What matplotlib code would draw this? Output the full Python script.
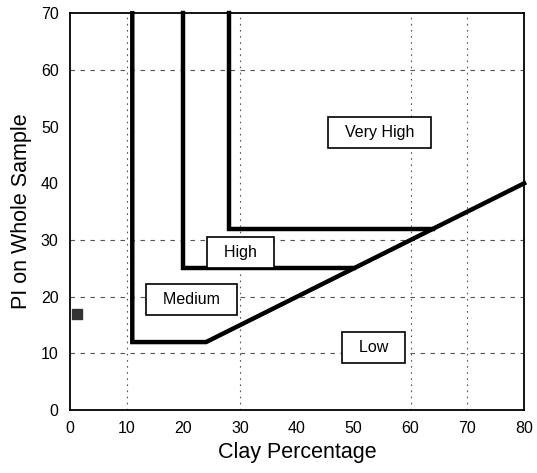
import matplotlib
matplotlib.use("Agg")
import matplotlib.pyplot as plt

plt.rcParams['font.family'] = ['Liberation Sans', 'DejaVu Sans']

# class boundaries (clay %, PI)
medium_x = [11, 11, 24, 80]
medium_y = [70, 12, 12, 40]
high_x = [20, 20, 50]
high_y = [70, 25, 25]
vhigh_x = [28, 28, 64]
vhigh_y = [70, 32, 32]

labels = ['Very High', 'High', 'Medium', 'Low']
label_x = [54.5, 30, 21.5, 53.5]
label_y = [49, 27.8, 19.5, 11]

sample_x = [1.3]
sample_y = [17]

grid_x = [10, 30, 60, 70]
grid_y = [10, 20, 30, 60]

fig = plt.figure(figsize=(5.37, 4.73), dpi=100)
ax = fig.add_axes([0.130, 0.133, 0.846, 0.839])

for gx in grid_x:
    ax.axvline(gx, color='#555555', lw=0.8, ls=(0, (1.5, 4)), zorder=1)
for gy in grid_y:
    ax.axhline(gy, color='#555555', lw=0.8, ls=(0, (4, 5)), zorder=1)

for xs, ys in [(medium_x, medium_y), (high_x, high_y), (vhigh_x, vhigh_y)]:
    ax.plot(xs, ys, color='black', lw=3.2, solid_joinstyle='miter', zorder=3, clip_on=False)

ax.plot(sample_x, sample_y, 's', color='#333333', ms=7, zorder=4)

for t, x, y in zip(labels, label_x, label_y):
    ax.text(x, y, '  ' + t + '  ', fontsize=11.5, ha='center', va='center', zorder=5,
            bbox=dict(boxstyle='square,pad=0.5', fc='white', ec='black', lw=1.2))

ax.set_xlim(0, 80)
ax.set_ylim(0, 70)
ax.set_xticks(range(0, 81, 10))
ax.set_yticks(range(0, 71, 10))
ax.tick_params(length=0, labelsize=11.5, pad=8)
for s in ax.spines.values():
    s.set_linewidth(1.3)

ax.set_xlabel('Clay Percentage', fontsize=15.5, labelpad=4)
ax.set_ylabel('PI on Whole Sample', fontsize=15.5, labelpad=6)

fig.savefig('out.png', dpi=100)
